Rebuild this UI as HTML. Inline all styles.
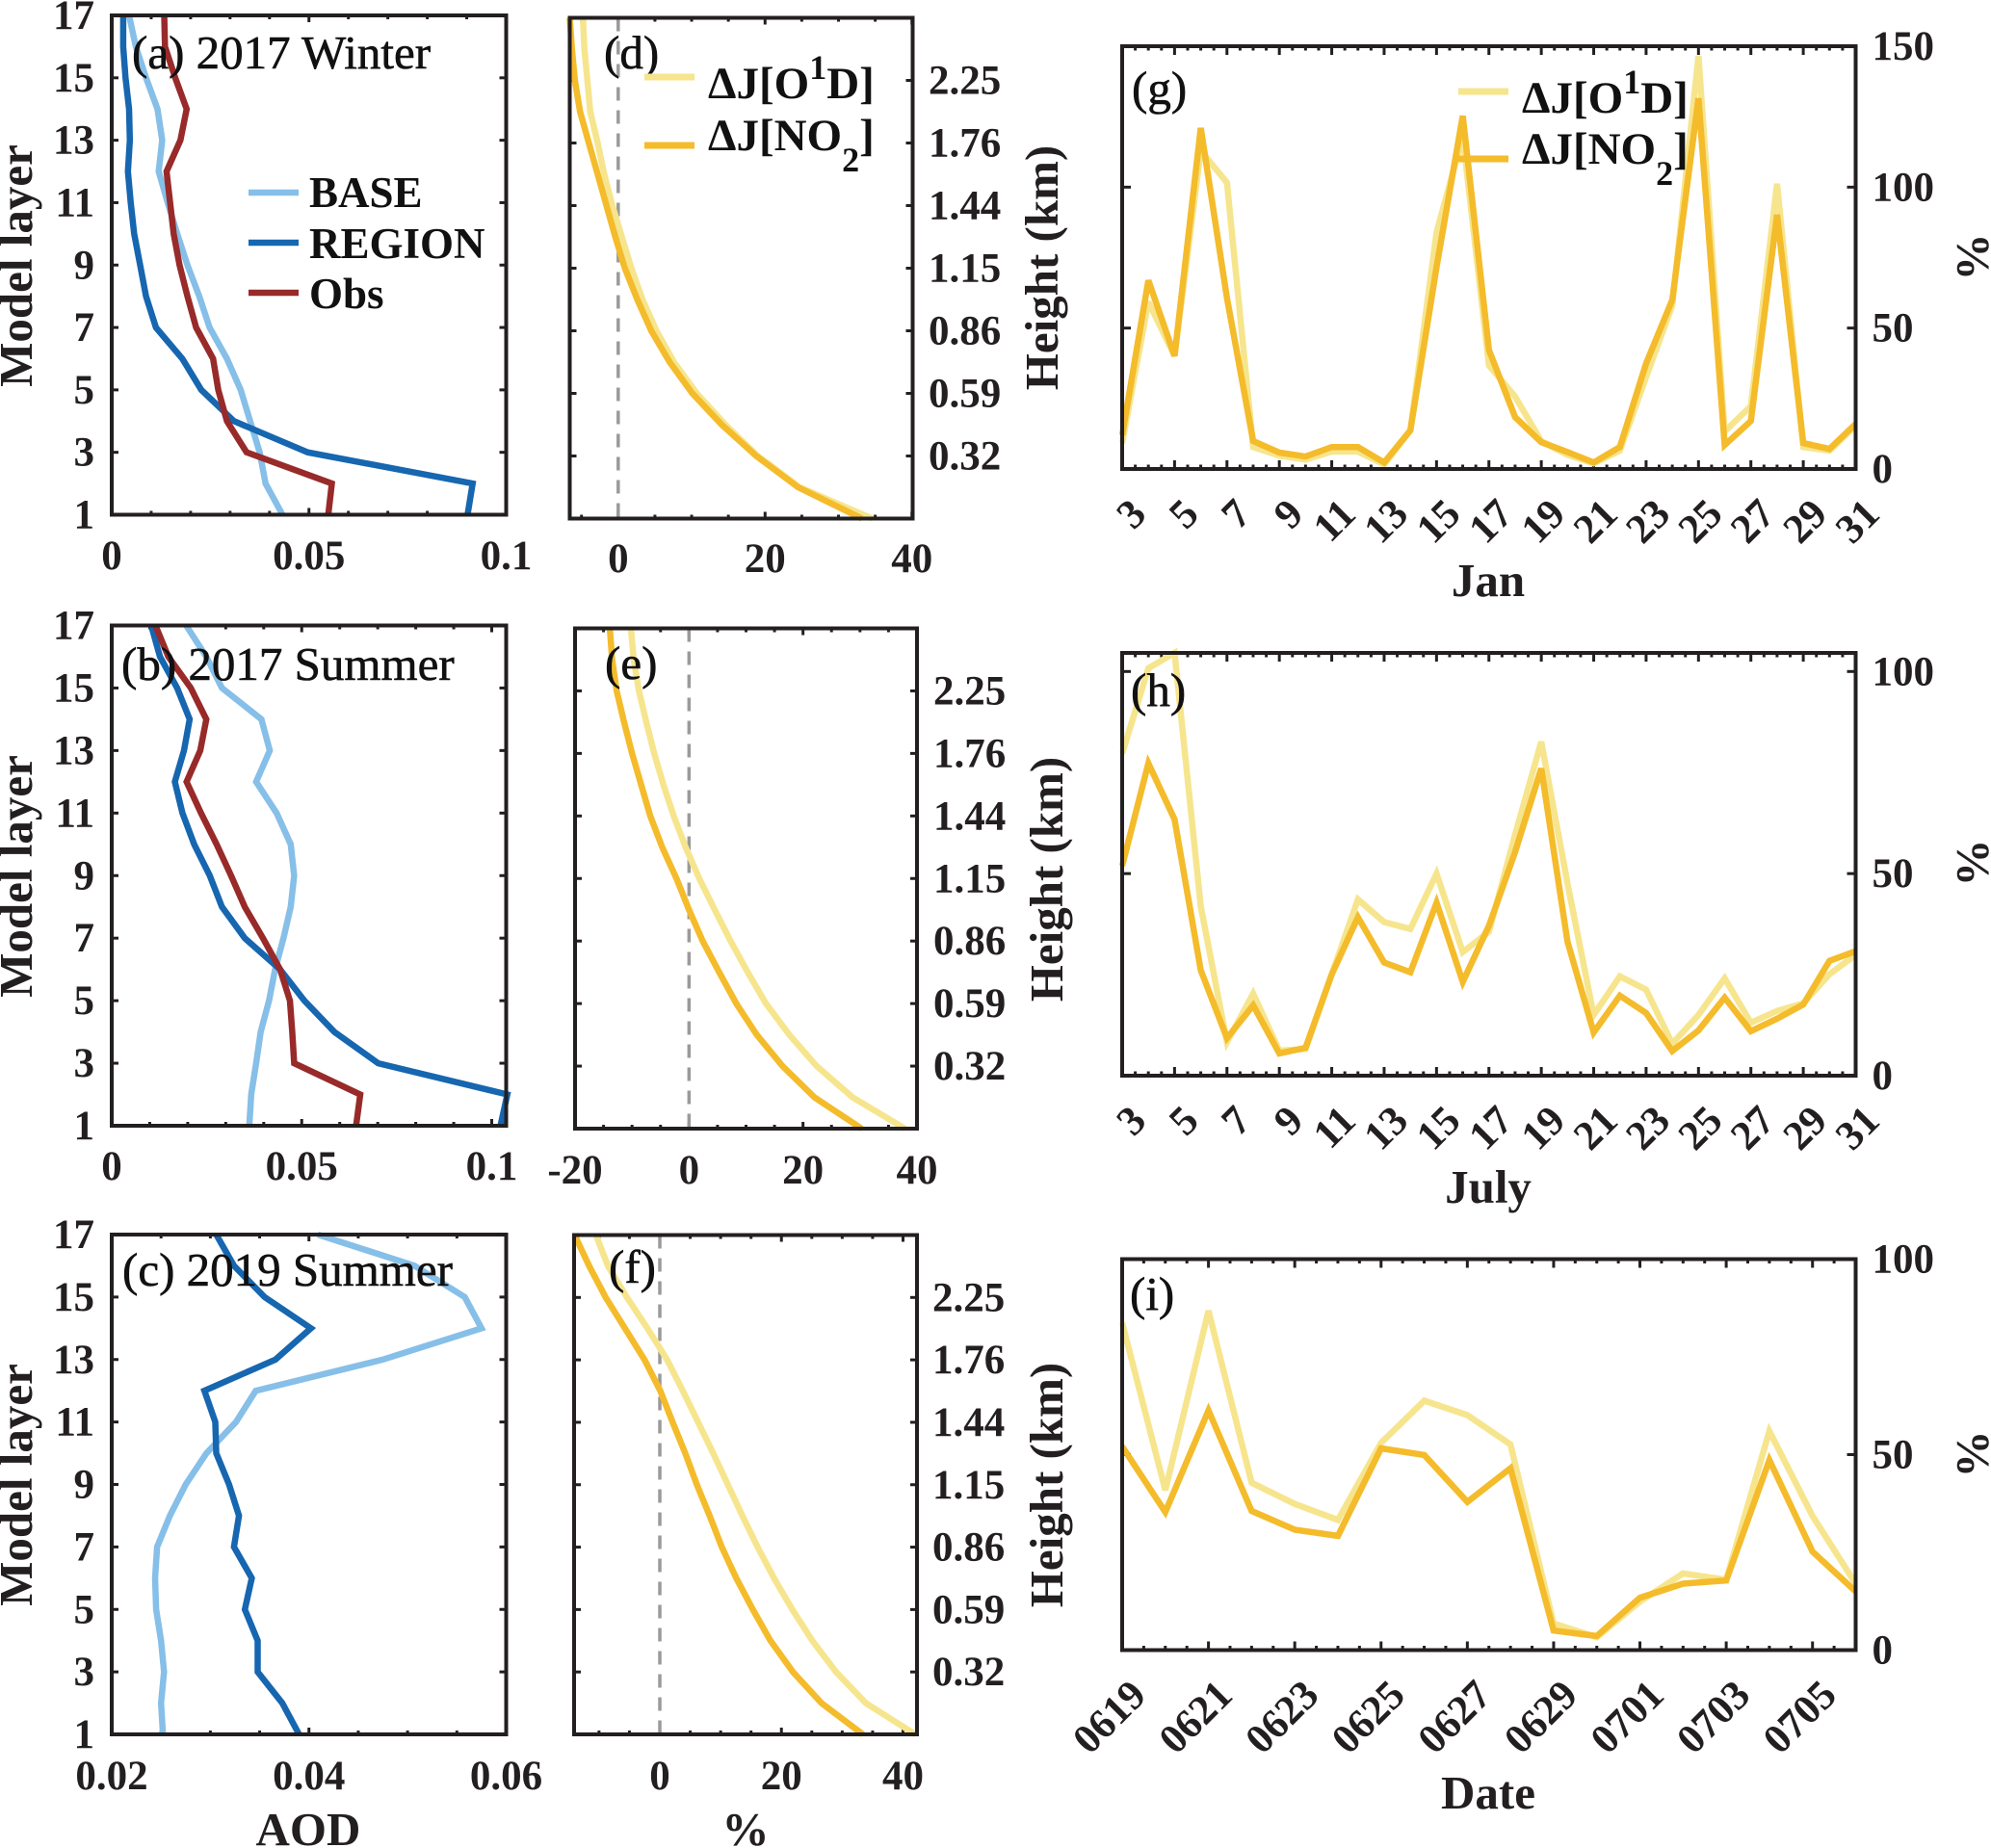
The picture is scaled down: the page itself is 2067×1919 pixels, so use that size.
<!DOCTYPE html>
<html lang="en">
<head>
<meta charset="utf-8">
<title>AOD profiles and photolysis rate changes</title>
<style>
html,body{margin:0;padding:0;background:#fff;}
svg{display:block;}
text{font-family:"Liberation Serif",serif;fill:#231f20;}
.tick{font-size:43px;font-weight:bold;}
.title{font-size:49px;font-weight:bold;}
.note{font-size:49px;fill:#111;stroke:#111;stroke-width:0.6px;}
.leg{font-size:45px;font-weight:bold;fill:#111;}
.legj{font-size:47px;font-weight:bold;fill:#111;}
</style>
</head>
<body>
<svg id="chart" xmlns="http://www.w3.org/2000/svg" width="2067" height="1919" viewBox="0 0 2067 1919">
<rect width="2067" height="1919" fill="#fff"/>
<g id="plots"></g>

<g>
<text class="title" text-anchor="middle" transform="translate(33,276) rotate(-90)">Model layer</text>
<text class="title" text-anchor="middle" transform="translate(33,910) rotate(-90)">Model layer</text>
<text class="title" text-anchor="middle" transform="translate(33,1542) rotate(-90)">Model layer</text>
<text class="title" text-anchor="middle" transform="translate(1098,278) rotate(-90)">Height (km)</text>
<text class="title" text-anchor="middle" transform="translate(1103,913) rotate(-90)">Height (km)</text>
<text class="title" text-anchor="middle" transform="translate(1103,1542) rotate(-90)">Height (km)</text>
<text class="title" text-anchor="middle" transform="translate(2064,267) rotate(-90)">%</text>
<text class="title" text-anchor="middle" transform="translate(2064,896) rotate(-90)">%</text>
<text class="title" text-anchor="middle" transform="translate(2064,1510) rotate(-90)">%</text>
<text class="title" text-anchor="middle" x="1545" y="619">Jan</text>
<text class="title" text-anchor="middle" x="1545" y="1249">July</text>
<text class="title" text-anchor="middle" x="1545" y="1878">Date</text>
<text class="title" text-anchor="middle" x="320" y="1916">AOD</text>
<text class="title" text-anchor="middle" x="774" y="1916">%</text>
</g>

<g>
<text class="note" x="137" y="71">(a) 2017 Winter</text>
<text class="note" x="126" y="706">(b) 2017 Summer</text>
<text class="note" x="127" y="1335">(c) 2019 Summer</text>
<text class="note" x="627" y="71">(d)</text>
<text class="note" x="628" y="705">(e)</text>
<text class="note" x="632" y="1332">(f)</text>
<text class="note" x="1175" y="108">(g)</text>
<text class="note" x="1174" y="733">(h)</text>
<text class="note" x="1173" y="1360">(i)</text>
</g>

<g>
<g>
<line x1="258" y1="200" x2="310" y2="200" stroke="#86bfe8" stroke-width="6.5"/>
<text class="leg" x="321" y="215">BASE</text>
</g>
<g>
<line x1="258" y1="252" x2="310" y2="252" stroke="#1666b0" stroke-width="6.5"/>
<text class="leg" x="321" y="268">REGION</text>
</g>
<g>
<line x1="258" y1="304" x2="310" y2="304" stroke="#982a2a" stroke-width="6.5"/>
<text class="leg" x="321" y="320">Obs</text>
</g>
</g>

<g>
<line x1="669" y1="80" x2="721" y2="80" stroke="#f6e58d" stroke-width="7"/>
<text class="legj" x="735" y="102">ΔJ[O<tspan dy="-20" font-size="36">1</tspan><tspan dy="20">D]</tspan></text>
<line x1="669" y1="151" x2="721" y2="151" stroke="#f4bb2b" stroke-width="7"/>
<text class="legj" x="735" y="156">ΔJ[NO<tspan dy="22" font-size="36">2</tspan><tspan dy="-22">]</tspan></text>
</g>

<g>
<line x1="1514" y1="95" x2="1566" y2="95" stroke="#f6e58d" stroke-width="7"/>
<text class="legj" x="1580" y="117">ΔJ[O<tspan dy="-20" font-size="36">1</tspan><tspan dy="20">D]</tspan></text>
<line x1="1514" y1="165" x2="1566" y2="165" stroke="#f4bb2b" stroke-width="7"/>
<text class="legj" x="1580" y="170">ΔJ[NO<tspan dy="22" font-size="36">2</tspan><tspan dy="-22">]</tspan></text>
</g>
</svg>

<script>
// ---- Data ----
const layers = [1,2,3,4,5,6,7,8,9,10,11,12,13,14,15,16,17];
const layerTicks = [1,3,5,7,9,11,13,15,17];
const heightTickLayers = [3,5,7,9,11,13,15];
const heightLabels = ['0.32','0.59','0.86','1.15','1.44','1.76','2.25'];

const aBase = [.0433,.0390,.0375,.0351,.0327,.0292,.0248,.0222,.0192,.0166,.0142,.0119,.0128,.0116,.0087,.0061,.0044];
const aRegion = [.0902,.0915,.0497,.0310,.0227,.0179,.0112,.0087,.0072,.0057,.0048,.0041,.0046,.0044,.0035,.0029,.0029];
const aObs = [.0549,.0558,.0342,.0292,.0270,.0257,.0214,.0192,.0172,.0157,.0148,.0139,.0174,.0190,.0161,.0135,.0133];

const bBase = [.0362,.0367,.0380,.0392,.0414,.0430,.0452,.0471,.0480,.0471,.0434,.0380,.0416,.0394,.0290,.0249,.0196];
const bRegion = [.1023,.1041,.0701,.0586,.0507,.0443,.0350,.0290,.0258,.0217,.0186,.0166,.0190,.0205,.0172,.0127,.0104];
const bObs = [.0643,.0654,.0480,.0475,.0469,.0443,.0398,.0350,.0314,.0276,.0235,.0197,.0233,.0249,.0208,.0149,.0115];

const cBase = [.0252,.0250,.0253,.0250,.0245,.0244,.0246,.0259,.0275,.0296,.0326,.0346,.0475,.0575,.0558,.0507,.0409];
const cRegion = [.0390,.0373,.0348,.0348,.0335,.0342,.0324,.0329,.0319,.0306,.0305,.0294,.0366,.0402,.0355,.0324,.0306];

const dO1D = [34.6,24.7,19.0,14.6,10.7,7.6,5.2,3.3,1.8,.5,-.8,-1.9,-2.8,-3.8,-4.2,-4.6,-4.8];
const dNO2 = [33.2,24.5,18.8,14.1,10.1,7.0,4.5,2.6,.9,-.4,-1.6,-2.8,-4.0,-5.2,-5.9,-6.3,-6.6];

const eO1D = [37.9,28.7,22.4,17.6,13.5,10.3,7.3,4.5,1.8,-.6,-2.7,-4.5,-6.1,-7.5,-8.8,-9.7,-10.2];
const eNO2 = [30.3,22,16.4,11.9,8.3,5.3,2.4,0,-2.2,-4.7,-6.8,-8.4,-10,-11.4,-12.7,-13.5,-13.9];

const fO1D = [42.0,33.9,29.0,25.1,21.8,18.8,16.1,13.6,11.2,8.8,6.3,3.8,1.2,-2.0,-5.4,-8.5,-10.5];
const fNO2 = [33.4,26.6,21.9,18.2,15.3,12.6,10.2,8.2,6.1,4.2,2.1,.1,-2.5,-5.7,-8.9,-11.6,-14.0];

const monthDays = [3,4,5,6,7,8,9,10,11,12,13,14,15,16,17,18,19,20,21,22,23,24,25,26,27,28,29,30,31];
const dayLabels = ['3','5','7','9','11','13','15','17','19','21','23','25','27','29','31'];

const gO1D = [9.2,59.3,40.1,113,101.6,7.8,4.7,3.3,6.2,6.2,1.6,13.7,84,118,36.7,25.7,9.9,5,2,6.5,32.6,58,146.6,13.3,22.3,101.2,7.8,6.5,15.4];
const gNO2 = [12,66.9,40.1,121,60.7,9.9,5.8,4.4,7.8,7.8,2.3,13.7,71.7,125.3,42.2,18.4,9.5,6,2.3,7.8,37.4,60,131.5,8.5,17,90.2,9.2,7.1,16];

const hO1D = [79.7,100.8,104.6,41.9,8.3,20.3,6.2,6.6,25.1,43.6,38,36.3,50,30.6,35.6,59.6,82.6,47.6,15,24.6,21.3,7.9,15,24.1,13.1,16,17.9,25.1,29.9];
const hNO2 = [51.9,77.3,63.4,26.1,9.3,17.4,5.5,6.9,25.1,39.2,28,25.6,42.8,23.2,37.1,55.3,76,33.2,10.7,19.8,15.5,6.1,11.2,19.3,11,14.1,17.6,28.4,30.8];

const campaignDates = ['0619','0620','0621','0622','0623','0624','0625','0626','0627','0628','0629','0630','0701','0702','0703','0704','0705','0706'];
const dateLabels = ['0619','0621','0623','0625','0627','0629','0701','0703','0705'];
const iO1D = [83.7,40.9,86.8,42.8,37.4,33.3,53,63.8,60.1,52.6,6.8,3.3,12.4,19.6,18,56,34.3,17];
const iNO2 = [52.1,35.3,61.3,35.6,30.8,29.2,51.6,49.9,37.9,46.5,5,3.6,13.4,17,17.8,48.6,25.2,15];

// ---- Style ----
const colorBase = '#86bfe8';
const colorRegion = '#1666b0';
const colorObs = '#982a2a';
const colorO1D = '#f6e58d';
const colorNO2 = '#f4bb2b';
const colorAxis = '#231f20';
const NS = 'http://www.w3.org/2000/svg';
const plots = document.getElementById('plots');

function linear(d0, d1, r0, r1) {
  return v => r0 + (v - d0) * (r1 - r0) / (d1 - d0);
}
function make(tag, parent) {
  const el = document.createElementNS(NS, tag);
  parent.appendChild(el);
  return el;
}
function tickLine(parent, x1, y1, x2, y2, name) {
  const t = make('line', parent);
  
  
  t.setAttribute('x1', x1);
  t.setAttribute('y1', y1);
  t.setAttribute('x2', x2);
  t.setAttribute('y2', y2);
  t.setAttribute('stroke', colorAxis);
  t.setAttribute('stroke-width', 3);
}
function label(parent, x, y, str, anchor, name, rot) {
  const t = make('text', parent);
  
  
  t.setAttribute('class', 'tick');
  t.setAttribute('text-anchor', anchor);
  if (rot) {
    t.setAttribute('transform', 'translate(' + x + ',' + y + ') rotate(' + rot + ')');
  } else {
    t.setAttribute('x', x);
    t.setAttribute('y', y);
  }
  t.textContent = str;
}
function series(parent, xs, ys, color, width, name) {
  const p = make('polyline', parent);
  
  
  p.setAttribute('points', xs.map((x, i) => x.toFixed(1) + ',' + ys[i].toFixed(1)).join(' '));
  p.setAttribute('fill', 'none');
  p.setAttribute('stroke', color);
  p.setAttribute('stroke-width', width);
  p.setAttribute('stroke-linejoin', 'miter');
  p.setAttribute('stroke-miterlimit', 3);
}
function frame(parent, box) {
  const r = make('rect', parent);
  
  
  r.setAttribute('x', box.l);
  r.setAttribute('y', box.t);
  r.setAttribute('width', box.r - box.l);
  r.setAttribute('height', box.b - box.t);
  r.setAttribute('fill', 'none');
  r.setAttribute('stroke', colorAxis);
  r.setAttribute('stroke-width', 4);
}
function group(name) {
  const g = make('g', plots);
  
  
  return g;
}

// Vertical-profile panels (a-f): x = value, y = model layer
function profilePanel(name, box, xDomain, xMinorStep, xMajorStep, xLabels, xLabelY, lines, opts) {
  const g = group(name);
  const sx = linear(xDomain[0], xDomain[1], box.l, box.r);
  const sy = linear(1, 17, box.b, box.t);
  const start = Math.ceil(xDomain[0] / xMinorStep - 1e-6);
  const end = Math.floor(xDomain[1] / xMinorStep + 1e-6);
  for (let i = start; i <= end; i++) {
    const v = i * xMinorStep;
    const ratio = (v - (opts.majorOrigin || 0)) / xMajorStep;
    const major = Math.abs(ratio - Math.round(ratio)) < 1e-6;
    const len = major ? 7 : 4;
    tickLine(g, sx(v), box.b, sx(v), box.b - len, 'x-tick');
    tickLine(g, sx(v), box.t, sx(v), box.t + len, 'x-tick');
  }
  const tickLayers = opts.right ? heightTickLayers : layerTicks;
  tickLayers.forEach(n => {
    tickLine(g, box.l, sy(n), box.l + 7, sy(n), 'y-tick');
    tickLine(g, box.r, sy(n), box.r - 7, sy(n), 'y-tick');
  });
  if (opts.right) {
    heightTickLayers.forEach((n, i) => {
      label(g, opts.right, sy(n) + 14, heightLabels[i], 'start', 'height-tick-label');
    });
  } else {
    layerTicks.forEach(n => {
      label(g, 98, sy(n) + 14, String(n), 'end', 'y-tick-label');
    });
  }
  xLabels.forEach(v => {
    label(g, sx(v), xLabelY, String(v), 'middle', 'x-tick-label');
  });
  if (opts.zero) {
    const z = make('line', g);
    
    
    z.setAttribute('x1', sx(0));
    z.setAttribute('y1', box.t);
    z.setAttribute('x2', sx(0));
    z.setAttribute('y2', box.b);
    z.setAttribute('stroke', '#9a9a9a');
    z.setAttribute('stroke-width', 3.5);
    z.setAttribute('stroke-dasharray', '14 10');
  }
  lines.forEach(s => {
    series(g, s.values.map(sx), layers.map(sy), s.color, 6.5, s.name);
  });
  frame(g, box);
}

// Time-series panels (g-i): x = day index, y = percent
function timePanel(name, box, count, yMax, yTicks, yLabels, xLabels, xLabelEvery, lines) {
  const g = group(name);
  const sx = linear(0, count - 1, box.l, box.r);
  const sy = linear(0, yMax, box.b, box.t);
  for (let i = 0; i <= (count - 1) * 2; i++) {
    const major = i % (xLabelEvery * 2) === 0;
    const len = major ? 9 : 4.5;
    const x = sx(i / 2);
    tickLine(g, x, box.b, x, box.b - len, 'x-tick');
    tickLine(g, x, box.t, x, box.t + len, 'x-tick');
  }
  yTicks.forEach(v => {
    tickLine(g, box.l, sy(v), box.l + 9, sy(v), 'y-tick');
    tickLine(g, box.r, sy(v), box.r - 9, sy(v), 'y-tick');
  });
  yLabels.forEach(v => {
    label(g, 1943.5, sy(v) + 14, String(v), 'start', 'y-tick-label');
  });
  xLabels.forEach((str, i) => {
    label(g, sx(i * xLabelEvery) + 27, box.b + 49, str, 'end', 'x-tick-label', -45);
  });
  lines.forEach(s => {
    series(g, s.values.map((v, i) => sx(i)), s.values.map(sy), s.color, 6.5, s.name);
  });
  frame(g, box);
}

function aodLines(base, region, obs) {
  const out = [{values: base, color: colorBase, name: 'series-base'}, {values: region, color: colorRegion, name: 'series-region'}];
  if (obs) out.push({values: obs, color: colorObs, name: 'series-obs'});
  return out;
}
function jLines(o1d, no2) {
  return [{values: o1d, color: colorO1D, name: 'series-delta-j-o1d'}, {values: no2, color: colorNO2, name: 'series-delta-j-no2'}];
}

profilePanel('panel-a', {l:116, r:525.5, t:16, b:534.5}, [0,0.1], 0.01, 0.05, [0,0.05,0.1], 591, aodLines(aBase,aRegion,aObs), {});
profilePanel('panel-b', {l:116, r:525.5, t:649.5, b:1169}, [0,0.1038], 0.01, 0.05, [0,0.05,0.1], 1225, aodLines(bBase,bRegion,bObs), {});
profilePanel('panel-c', {l:116, r:525.5, t:1282, b:1801}, [0.02,0.06], 0.005, 0.02, [0.02,0.04,0.06], 1858, aodLines(cBase,cRegion,null), {});
profilePanel('panel-d', {l:591.5, r:947.5, t:18.5, b:538.5}, [-6.6,40.1], 5, 20, [0,20,40], 594, jLines(dO1D,dNO2), {right:964, zero:true});
profilePanel('panel-e', {l:597, r:952, t:652.5, b:1172}, [-20,40], 5, 20, [-20,0,20,40], 1229, jLines(eO1D,eNO2), {right:969, zero:true});
profilePanel('panel-f', {l:596, r:952, t:1282.5, b:1801}, [-14.1,42.3], 5, 20, [0,20,40], 1858, jLines(fO1D,fNO2), {right:968, zero:true});

timePanel('panel-g', {l:1165, r:1926.5, t:48, b:487}, monthDays.length, 150, [0,50,100,150], [0,50,100,150], dayLabels, 2, jLines(gO1D,gNO2));
timePanel('panel-h', {l:1165, r:1926.5, t:678, b:1117}, monthDays.length, 104.6, [0,50,100], [0,50,100], dayLabels, 2, jLines(hO1D,hNO2));
timePanel('panel-i', {l:1165, r:1926.5, t:1307.5, b:1713.5}, campaignDates.length, 100, [0,50,100], [0,50,100], dateLabels, 2, jLines(iO1D,iNO2));
</script>
</body>
</html>
